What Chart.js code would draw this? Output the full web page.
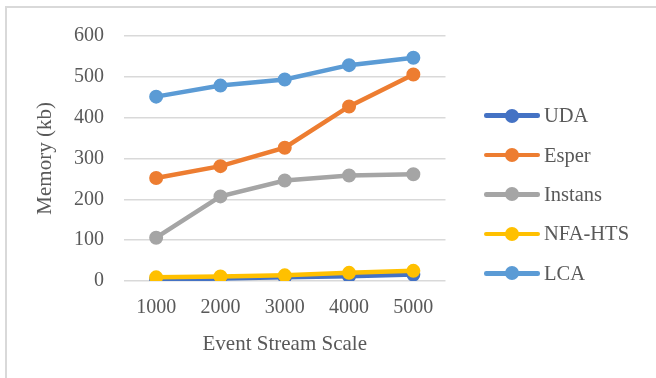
<!DOCTYPE html>
<html>
<head>
<meta charset="utf-8">
<script src="https://cdn.jsdelivr.net/npm/chart.js@4/dist/chart.umd.min.js"></script>
<style>
  html, body { margin: 0; padding: 0; background: #ffffff; }
  #wrap { position: relative; width: 656px; height: 378px; overflow: hidden; }
  #frame { position: absolute; left: 5px; top: 6px; width: 700px; height: 400px;
           border-left: 2px solid #d9d9d9; border-top: 2px solid #d9d9d9; box-sizing: border-box; }
  #c { position: absolute; left: 0; top: 0; }
  #legend { position: absolute; left: 484px; top: 96px; margin: 0; padding: 0; list-style: none;
            font-family: "Liberation Serif", "Times New Roman", serif; font-size: 20.5px; color: #595959; }
  #legend li { display: flex; align-items: center; height: 39.4px; white-space: nowrap; }
  #legend .sample { position: relative; width: 56px; height: 14px; margin-right: 4px; flex: none; }
  #legend .bar { position: absolute; left: 0; top: 4.75px; width: 56px; height: 4.5px; border-radius: 2.25px; }
  #legend .dot { position: absolute; left: 21px; top: 0; width: 14px; height: 14px; border-radius: 50%; }
</style>
</head>
<body>
<div id="wrap">
  <div id="frame"></div>
  <canvas id="c" width="656" height="378"></canvas>
  <ul id="legend"></ul>
</div>
<script>
const categories = ['1000', '2000', '3000', '4000', '5000'];
const seriesNames = ['UDA', 'Esper', 'Instans', 'NFA-HTS', 'LCA'];
const udaValues = [4, 6, 9, 12, 16];
const esperValues = [252, 281, 326, 427, 505];
const instansValues = [106, 207, 246, 258, 261];
const nfaHtsValues = [9, 11, 14, 20, 25];
const lcaValues = [451, 478, 493, 528, 546];
const seriesColors = ['#4472C4', '#ED7D31', '#A5A5A5', '#FFC000', '#5B9BD5'];
const yTicks = [0, 100, 200, 300, 400, 500, 600];
const xTitle = 'Event Stream Scale';
const yTitle = 'Memory (kb)';

const allValues = [udaValues, esperValues, instansValues, nfaHtsValues, lcaValues];
const FONT = '"Liberation Serif", "Times New Roman", serif';
const TEXT = '#595959';

// HTML legend (real text)
const legendEl = document.getElementById('legend');
seriesNames.forEach((name, i) => {
  const li = document.createElement('li');
  const sample = document.createElement('span');
  sample.className = 'sample';
  const bar = document.createElement('span'); bar.className = 'bar'; bar.style.background = seriesColors[i];
  const dot = document.createElement('span'); dot.className = 'dot'; dot.style.background = seriesColors[i];
  sample.appendChild(bar); sample.appendChild(dot);
  const label = document.createElement('span'); label.textContent = name;
  li.appendChild(sample); li.appendChild(label);
  legendEl.appendChild(li);
});

const datasets = seriesNames.map((name, i) => ({
  label: name,
  data: allValues[i],
  borderColor: seriesColors[i],
  backgroundColor: seriesColors[i],
  pointBackgroundColor: seriesColors[i],
  pointBorderColor: seriesColors[i],
  borderWidth: 4.5,
  pointRadius: 6,
  pointBorderWidth: 2,
  tension: 0,
  order: seriesNames.length - i
}));

new Chart(document.getElementById('c'), {
  type: 'line',
  data: { labels: categories, datasets },
  options: {
    responsive: false,
    animation: false,
    devicePixelRatio: 1,
    layout: { padding: { left: 13, right: 210.5, top: 35.7, bottom: 14 } },
    plugins: {
      tooltip: { enabled: false },
      legend: { display: false }
    },
    scales: {
      x: {
        type: 'category',
        offset: true,
        grid: { display: false, drawTicks: false },
        border: { display: false },
        ticks: { color: TEXT, font: { family: FONT, size: 20 }, padding: 14.5, maxRotation: 0, autoSkip: false },
        title: { display: true, text: xTitle, color: TEXT, font: { family: FONT, size: 21, lineHeight: 0.95 }, padding: { top: 0, bottom: 10 } }
      },
      y: {
        min: 0, max: 600,
        afterBuildTicks: (s) => { s.ticks = yTicks.map(v => ({ value: v })); },
        afterFit: (s) => { s.width = 111; },
        grid: { color: '#d9d9d9', lineWidth: 1.5, drawTicks: false },
        border: { display: false },
        ticks: { color: TEXT, font: { family: FONT, size: 20 }, padding: 20 },
        title: { display: true, text: yTitle, color: TEXT, font: { family: FONT, size: 21 }, padding: { top: 20, bottom: 4 } }
      }
    }
  }
});
</script>
</body>
</html>
